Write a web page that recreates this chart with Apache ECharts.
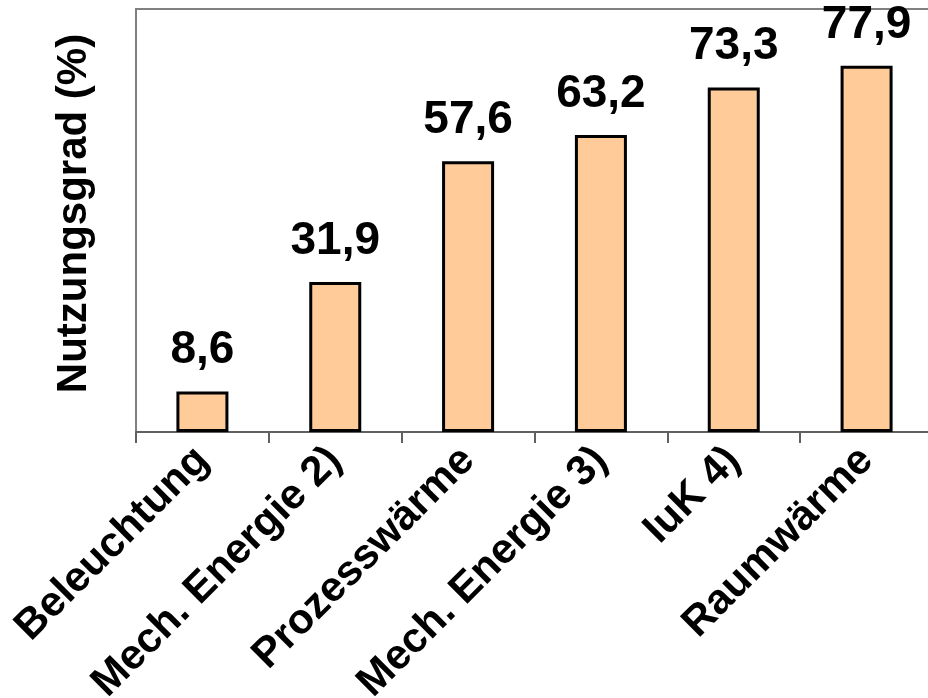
<!DOCTYPE html>
<html><head><meta charset="utf-8">
<script src="https://cdn.jsdelivr.net/npm/echarts@6/dist/echarts.min.js"></script>
<style>html,body{margin:0;padding:0;background:#fff}#c{width:928px;height:698px}</style>
</head><body><div id="c"></div>
<script>
const categories = ['Beleuchtung', 'Mech. Energie 2)', 'Prozesswärme', 'Mech. Energie 3)', 'IuK 4)', 'Raumwärme'];
const values = [8.6, 31.9, 57.6, 63.2, 73.3, 77.9];
const yAxisTitle = 'Nutzungsgrad (%)';
const yMin = 0, yMax = 90;

const font = '"Liberation Sans", Arial, sans-serif';
const chart = echarts.init(document.getElementById('c'), null, {renderer: 'canvas'});
chart.setOption({
  animation: false,
  grid: {left: 136, right: -5, top: 9, bottom: 266, show: true, borderColor: '#808080', borderWidth: 2,
    backgroundColor: 'transparent', containLabel: false, outerBoundsMode: 'none'},
  xAxis: {
    type: 'category', data: categories,
    axisLine: {lineStyle: {color: '#606060', width: 2}},
    axisTick: {show: true, length: 11, lineStyle: {color: '#606060', width: 2}},
    axisLabel: {rotate: 45, margin: 22, interval: 0, color: '#000', fontFamily: font, fontWeight: 'bold', fontSize: 42}
  },
  yAxis: {
    type: 'value', min: yMin, max: yMax,
    name: yAxisTitle, nameLocation: 'middle', nameGap: 41,
    nameTextStyle: {color: '#000', fontFamily: font, fontWeight: 'bold', fontSize: 42, padding: [0, 0, 0, 14]},
    axisLine: {show: true, lineStyle: {color: '#808080', width: 2}},
    axisTick: {show: false}, axisLabel: {show: false}, splitLine: {show: false}
  },
  series: [{
    type: 'bar', data: values, barWidth: 52,
    itemStyle: {color: '#FFCC99', borderColor: '#000', borderWidth: 3},
    label: {show: true, position: 'top', distance: 18, color: '#000', fontFamily: font, fontWeight: 'bold', fontSize: 46,
      formatter: p => p.value.toFixed(1).replace('.', ',')}
  }]
});
</script></body></html>
